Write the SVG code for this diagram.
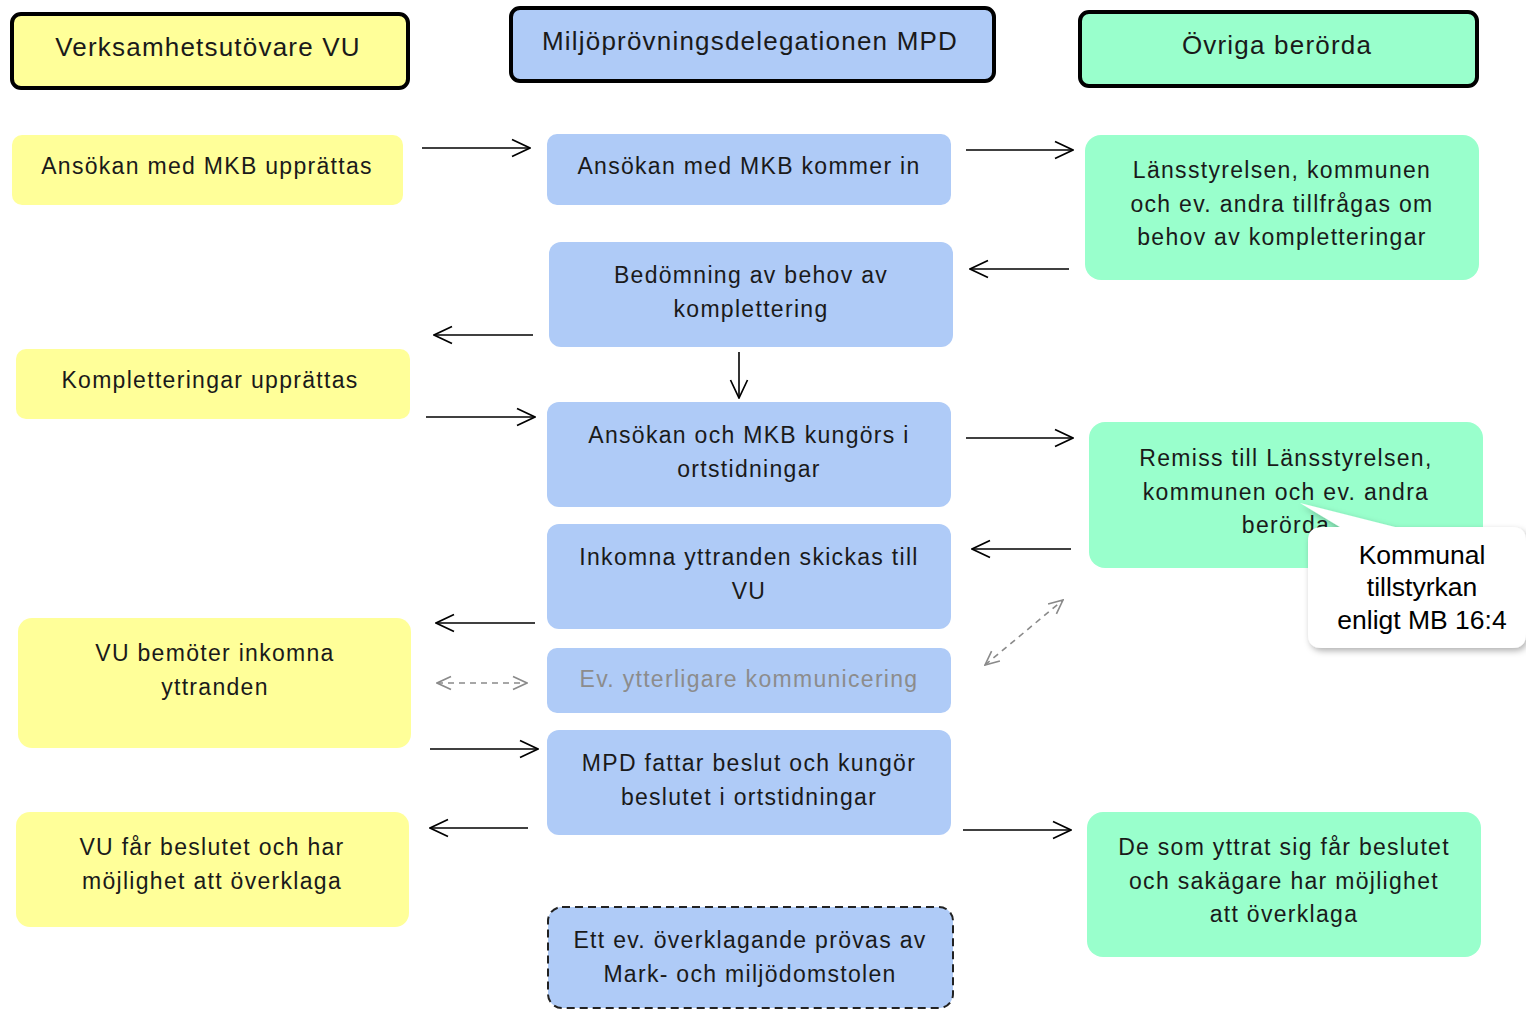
<svg xmlns="http://www.w3.org/2000/svg" width="1526" height="1011" viewBox="0 0 1526 1011">
<style>
text{font-family:"Liberation Sans",Arial,sans-serif;font-size:23px;letter-spacing:1.3px;fill:#1a1a1a;text-anchor:middle}
.ht{font-size:26px;letter-spacing:1.2px}
.hdr{stroke:#000;stroke-width:4}
.y{fill:#FFFF99}
.b{fill:#AFCBF7}
.g{fill:#99FFCC}
.c{stroke:#000;stroke-width:1.6;fill:none}
.d{stroke:#8a8a8a;stroke-width:1.6;fill:none;stroke-dasharray:6 5}
.call{font-size:26.5px;letter-spacing:0;fill:#000}
</style>
<defs>
<marker id="ah" viewBox="0 0 20 20" refX="19" refY="10" markerWidth="20" markerHeight="20" markerUnits="userSpaceOnUse" orient="auto-start-reverse"><path d="M1,1.5 L19,10 L1,18.5" fill="none" stroke="#000" stroke-width="1.7"/></marker>
<marker id="ahg" viewBox="0 0 16 16" refX="15" refY="8" markerWidth="16" markerHeight="16" markerUnits="userSpaceOnUse" orient="auto-start-reverse"><path d="M1,1.5 L15,8 L1,14.5" fill="none" stroke="#8a8a8a" stroke-width="1.6"/></marker>
<filter id="sh" x="-10%" y="-10%" width="130%" height="130%"><feDropShadow dx="2" dy="3" stdDeviation="3" flood-color="#000" flood-opacity="0.3"/></filter>
</defs>
<rect width="1526" height="1011" fill="#fff"/>

<g id="hdr-vu"><rect class="hdr y" x="12" y="14" width="396" height="74" rx="9"/><text class="ht" x="208" y="56">Verksamhetsutövare VU</text></g>
<g id="hdr-mpd"><rect class="hdr b" x="511" y="8" width="483" height="73" rx="9"/><text class="ht" x="750" y="50">Miljöprövningsdelegationen MPD</text></g>
<g id="hdr-ov"><rect class="hdr g" x="1080" y="12" width="397" height="74" rx="9"/><text class="ht" x="1277" y="54">Övriga berörda</text></g>

<g id="y1"><rect class="y" x="12" y="135" width="391" height="70" rx="10"/><text x="207" y="174">Ansökan med MKB upprättas</text></g>
<g id="y2"><rect class="y" x="16" y="349" width="394" height="70" rx="10"/><text x="210" y="388">Kompletteringar upprättas</text></g>
<g id="y3"><rect class="y" x="18" y="618" width="393" height="130" rx="14"/><text x="215" y="661">VU bemöter inkomna</text><text x="215" y="695">yttranden</text></g>
<g id="y4"><rect class="y" x="16" y="812" width="393" height="115" rx="14"/><text x="212" y="855">VU får beslutet och har</text><text x="212" y="889">möjlighet att överklaga</text></g>

<g id="b1"><rect class="b" x="547" y="134" width="404" height="71" rx="10"/><text x="749" y="174">Ansökan med MKB kommer in</text></g>
<g id="b2"><rect class="b" x="549" y="242" width="404" height="105" rx="12"/><text x="751" y="283">Bedömning av behov av</text><text x="751" y="317">komplettering</text></g>
<g id="b3"><rect class="b" x="547" y="402" width="404" height="105" rx="12"/><text x="749" y="443">Ansökan och MKB kungörs i</text><text x="749" y="477">ortstidningar</text></g>
<g id="b4"><rect class="b" x="547" y="524" width="404" height="105" rx="12"/><text x="749" y="565">Inkomna yttranden skickas till</text><text x="749" y="599">VU</text></g>
<g id="b5"><rect class="b" x="547" y="648" width="404" height="65" rx="10"/><text x="749" y="687" style="fill:#8c8c8c">Ev. ytterligare kommunicering</text></g>
<g id="b6"><rect class="b" x="547" y="730" width="404" height="105" rx="12"/><text x="749" y="771">MPD fattar beslut och kungör</text><text x="749" y="805">beslutet i ortstidningar</text></g>
<g id="b7"><rect class="b" x="548" y="907" width="405" height="101" rx="14" stroke="#222" stroke-width="2" stroke-dasharray="8 5"/><text x="750" y="948">Ett ev. överklagande prövas av</text><text x="750" y="982">Mark- och miljödomstolen</text></g>

<g id="g1"><rect class="g" x="1085" y="135" width="394" height="145" rx="16"/><text x="1282" y="178">Länsstyrelsen, kommunen</text><text x="1282" y="212">och ev. andra tillfrågas om</text><text x="1282" y="245">behov av kompletteringar</text></g>
<g id="g2"><rect class="g" x="1089" y="422" width="394" height="146" rx="16"/><text x="1286" y="466">Remiss till Länsstyrelsen,</text><text x="1286" y="500">kommunen och ev. andra</text><text x="1286" y="533">berörda</text></g>
<g id="g3"><rect class="g" x="1087" y="812" width="394" height="145" rx="16"/><text x="1284" y="855">De som yttrat sig får beslutet</text><text x="1284" y="889">och sakägare har möjlighet</text><text x="1284" y="922">att överklaga</text></g>

<g id="callout">
<path filter="url(#sh)" d="M1322,527 L1340,527 L1300,503 L1395,527 L1512,527 Q1526,527 1526,541 L1526,634 Q1526,648 1512,648 L1322,648 Q1308,648 1308,634 L1308,541 Q1308,527 1322,527 Z" fill="#fff"/>
<text class="call" x="1422" y="564">Kommunal</text><text class="call" x="1422" y="596">tillstyrkan</text><text class="call" x="1422" y="629">enligt MB 16:4</text>
</g>

<g id="connectors">
<line class="c" x1="422" y1="148" x2="530" y2="148" marker-end="url(#ah)"/>
<line class="c" x1="966" y1="150" x2="1073" y2="150" marker-end="url(#ah)"/>
<line class="c" x1="1069" y1="269" x2="970" y2="269" marker-end="url(#ah)"/>
<line class="c" x1="533" y1="335" x2="434" y2="335" marker-end="url(#ah)"/>
<line class="c" x1="739" y1="352" x2="739" y2="398" marker-end="url(#ah)"/>
<line class="c" x1="426" y1="417" x2="535" y2="417" marker-end="url(#ah)"/>
<line class="c" x1="966" y1="438" x2="1073" y2="438" marker-end="url(#ah)"/>
<line class="c" x1="1071" y1="549" x2="972" y2="549" marker-end="url(#ah)"/>
<line class="c" x1="535" y1="623" x2="436" y2="623" marker-end="url(#ah)"/>
<line class="d" x1="437" y1="683" x2="527" y2="683" marker-start="url(#ahg)" marker-end="url(#ahg)"/>
<line class="d" x1="985" y1="665" x2="1063" y2="600" marker-start="url(#ahg)" marker-end="url(#ahg)"/>
<line class="c" x1="430" y1="749" x2="538" y2="749" marker-end="url(#ah)"/>
<line class="c" x1="528" y1="828" x2="430" y2="828" marker-end="url(#ah)"/>
<line class="c" x1="963" y1="830" x2="1071" y2="830" marker-end="url(#ah)"/>
</g>
</svg>
